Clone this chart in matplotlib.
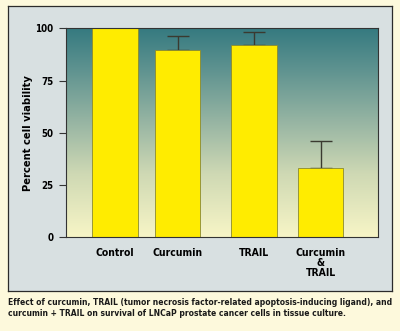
import numpy as np
import matplotlib
matplotlib.use('Agg')
import matplotlib.pyplot as plt
from matplotlib.colors import LinearSegmentedColormap

categories = ['Control', 'Curcumin', 'TRAIL', 'Curcumin\n&\nTRAIL']
viability = [100, 89.5, 92.0, 33.0]
error_upper = [0, 6.8, 6.0, 13.0]
yticks = [0, 25, 50, 75, 100]
caption = ('Effect of curcumin, TRAIL (tumor necrosis factor-related apoptosis-inducing ligand), and\n'
           'curcumin + TRAIL on survival of LNCaP prostate cancer cells in tissue culture.')

W, H = 400, 331
fig = plt.figure(figsize=(4, 3.31), dpi=100)
fig.patch.set_facecolor('#fdf9dc')

# outer panel
bg = fig.add_axes([8 / W, 1 - 291 / H, 384 / W, 285 / H], zorder=-1)
bg.set_facecolor('#d8e0e1')
bg.set_xticks([])
bg.set_yticks([])
for s in bg.spines.values():
    s.set_color('#2b2b2b')
    s.set_linewidth(0.9)

ax = fig.add_axes([66 / W, 1 - 237.3 / H, 312 / W, 209 / H])
ax.set_xlim(0, 5)
ax.set_ylim(0, 100)

# gradient background
cmap = LinearSegmentedColormap.from_list(
    'bg', [(0, '#f7f5c6'), (0.3, '#cfd9b4'), (0.55, '#97b5a3'), (0.8, '#5f9390'), (1, '#357a80')])
grad = np.linspace(0, 1, 256).reshape(-1, 1)
ax.imshow(grad, cmap=cmap, extent=[0, 5, 0, 100], origin='lower', aspect='auto', zorder=0)

xpos = [0.785, 1.787, 3.01, 4.08]
ax.bar(xpos, viability, width=0.73, color='#ffec00', edgecolor='#8a8a30', linewidth=0.6, zorder=2)
ax.errorbar(xpos[1:], viability[1:], yerr=[[0] * 3, error_upper[1:]], fmt='none',
            ecolor='#3a3a30', elinewidth=1.0, capsize=8, capthick=1.0, zorder=1)

font = 'DejaVu Sans'
st = 'condensed'
ax.set_yticks(yticks)
ax.set_yticklabels([str(t) for t in yticks], fontsize=7, fontweight='bold', family=font, fontstretch=st)
ax.tick_params(axis='y', length=5, width=0.8, color='#333333', pad=4)
ax.set_xticks(xpos)
ax.set_xticklabels(categories, fontsize=7.5, fontweight='bold', family=font, fontstretch=st,
                   linespacing=0.95)
ax.tick_params(axis='x', length=0, pad=8)
ax.set_ylabel('Percent cell viability', fontsize=8, fontweight='bold', family=font, fontstretch=st)
ax.yaxis.set_label_coords(-0.106, 0.5)
for s in ax.spines.values():
    s.set_color('#333333')
    s.set_linewidth(0.8)

fig.text(8 / W, 1 - 308 / H, caption, fontsize=5.5, fontweight='bold', family=font,
         ha='left', va='center', linespacing=1.3, color='#1a1a1a')

fig.savefig('out.png', dpi=100, facecolor=fig.get_facecolor())
